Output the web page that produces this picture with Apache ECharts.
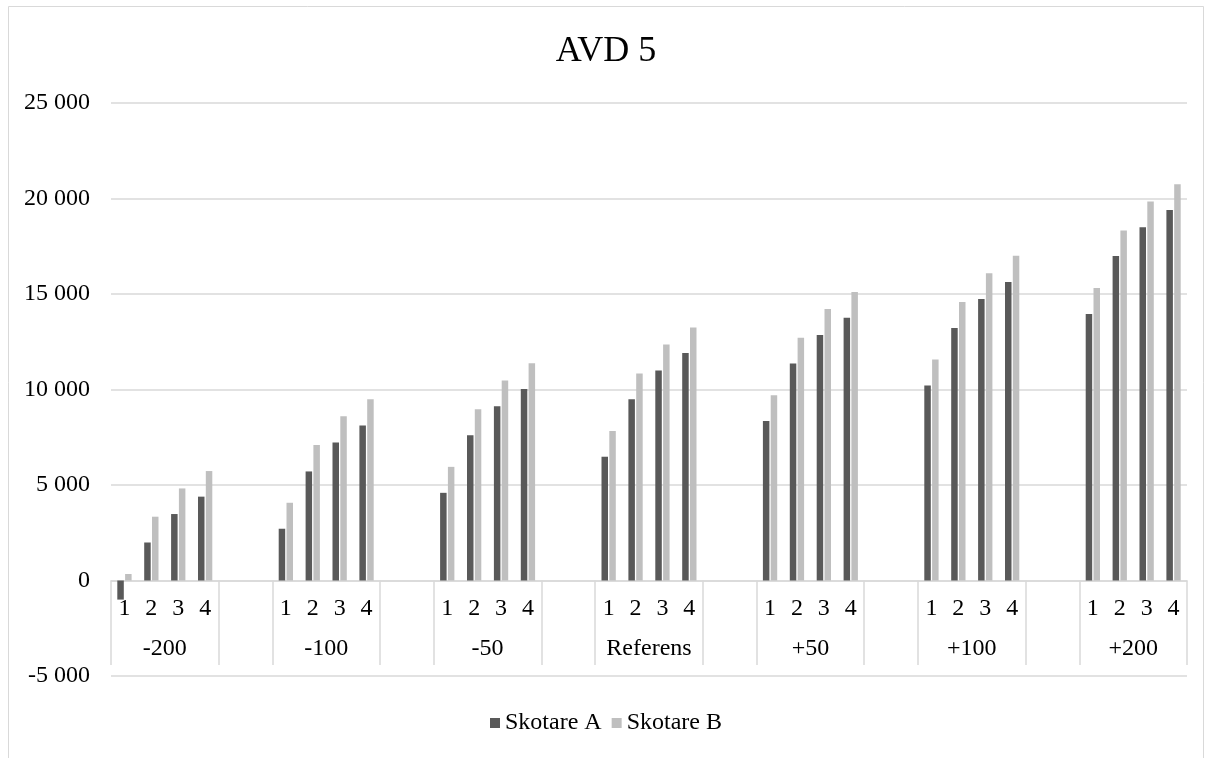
<!DOCTYPE html>
<html>
<head>
<meta charset="utf-8">
<script src="https://cdn.jsdelivr.net/npm/echarts@6/dist/echarts.min.js"></script>
<style>
html,body{margin:0;padding:0;background:#fff;}
#chart{width:1212px;height:758px;}
</style>
</head>
<body>
<div id="chart"></div>
<script>
// Group labels (outer level) and sub-category labels (inner level)
var groups = ['-200', '-100', '-50', 'Referens', '+50', '+100', '+200'];
var subCats = ['1', '2', '3', '4'];
var seriesNames = ['Skotare A', 'Skotare B'];

// Values per group, sub-categories 1..4
var skotareA = [
  [-1000, 1990, 3480, 4390],
  [2710, 5710, 7230, 8120],
  [4590, 7610, 9120, 10020],
  [6480, 9490, 10990, 11910],
  [8350, 11360, 12850, 13760],
  [10210, 13220, 14740, 15630],
  [13950, 16990, 18490, 19400]
];
var skotareB = [
  [340, 3340, 4820, 5730],
  [4070, 7090, 8600, 9490],
  [5950, 8970, 10470, 11380],
  [7830, 10840, 12360, 13250],
  [9700, 12710, 14220, 15110],
  [11570, 14580, 16090, 17000],
  [15320, 18330, 19840, 20750]
];

var yTicks = [-5000, 0, 5000, 10000, 15000, 20000, 25000];

// Build flat category axis: each group of 4 followed by 2 empty slots
var GAP = 2;
var cats = [], dataA = [], dataB = [];
var groupCenters = [], dividers = [0];
groups.forEach(function (g, gi) {
  var start = cats.length;
  subCats.forEach(function (s, si) {
    cats.push(s);
    dataA.push(skotareA[gi][si]);
    dataB.push(skotareB[gi][si]);
  });
  groupCenters.push(start + subCats.length / 2);
  dividers.push(cats.length);
  if (gi < groups.length - 1) {
    for (var k = 0; k < GAP; k++) { cats.push(''); dataA.push('-'); dataB.push('-'); }
    dividers.push(cats.length);
  }
});
var total = cats.length;

var FONT = "'Liberation Serif', 'Times New Roman', serif";
var TXT = '#000000';
var GRID = '#d9d9d9';

function fmt(v) {
  var s = Math.abs(v).toString();
  s = s.replace(/\B(?=(\d{3})+(?!\d))/g, ' ');
  return (v < 0 ? '-' : '') + s;
}

var GRID_TOP = 103, GRID_BOTTOM = 82, CH = 758;
var plotH = CH - GRID_TOP - GRID_BOTTOM;
// distance from grid bottom (min) up to the zero line, in pixels
var zeroOffset = plotH * (0 - yTicks[0]) / (yTicks[yTicks.length - 1] - yTicks[0]);

var chart = echarts.init(document.getElementById('chart'), null, {renderer: 'canvas'});
chart.setOption({
  animation: false,
  backgroundColor: '#ffffff',
  title: {
    text: 'AVD 5',
    left: 'center',
    top: 29,
    textStyle: {fontFamily: FONT, fontSize: 36, fontWeight: 'normal', color: TXT}
  },
  legend: {
    bottom: 18,
    left: 'center',
    icon: 'rect',
    itemWidth: 10,
    itemHeight: 10,
    itemGap: 10,
    textStyle: {fontFamily: FONT, fontSize: 24, color: TXT},
    data: seriesNames
  },
  graphic: [{
    type: 'rect',
    shape: {x: 8.5, y: 6.5, width: 1195, height: 760},
    style: {fill: 'none', stroke: GRID, lineWidth: 1},
    silent: true,
    z: -1
  }],
  grid: {left: 111, right: 25, top: GRID_TOP, bottom: GRID_BOTTOM, containLabel: false},
  xAxis: [{
    type: 'category',
    data: cats,
    boundaryGap: true,
    position: 'bottom',
    offset: -zeroOffset,
    axisLine: {show: true, onZero: false, lineStyle: {color: GRID, width: 1.5}},
    axisTick: {show: false},
    axisLabel: {interval: 0, margin: 16, fontFamily: FONT, fontSize: 24, color: TXT},
    splitLine: {show: false}
  }, {
    type: 'value',
    min: 0,
    max: total,
    position: 'bottom',
    offset: -11,
    axisLine: {show: false, onZero: false},
    axisTick: {show: true, inside: true, length: zeroOffset - 11, customValues: dividers, lineStyle: {color: GRID, width: 1.5}},
    axisLabel: {
      show: true, inside: true, margin: 4,
      customValues: groupCenters,
      formatter: function (v) {
        var idx = groupCenters.indexOf(v);
        return idx >= 0 ? groups[idx] : '';
      },
      fontFamily: FONT, fontSize: 24, color: TXT
    },
    splitLine: {show: false}
  }],
  yAxis: {
    type: 'value',
    min: yTicks[0],
    max: yTicks[yTicks.length - 1],
    interval: 5000,
    axisLine: {show: false},
    axisTick: {show: false},
    axisLabel: {margin: 21, fontFamily: FONT, fontSize: 24, color: TXT, formatter: fmt},
    splitLine: {show: true, lineStyle: {color: GRID, width: 1.5}}
  },
  series: [{
    name: seriesNames[0],
    type: 'bar',
    xAxisIndex: 0,
    data: dataA,
    barWidth: 6.5,
    barGap: '20%',
    itemStyle: {color: '#595959'}
  }, {
    name: seriesNames[1],
    type: 'bar',
    xAxisIndex: 0,
    data: dataB,
    barWidth: 6.5,
    barGap: '20%',
    itemStyle: {color: '#bfbfbf'}
  }]
});
</script>
</body>
</html>
